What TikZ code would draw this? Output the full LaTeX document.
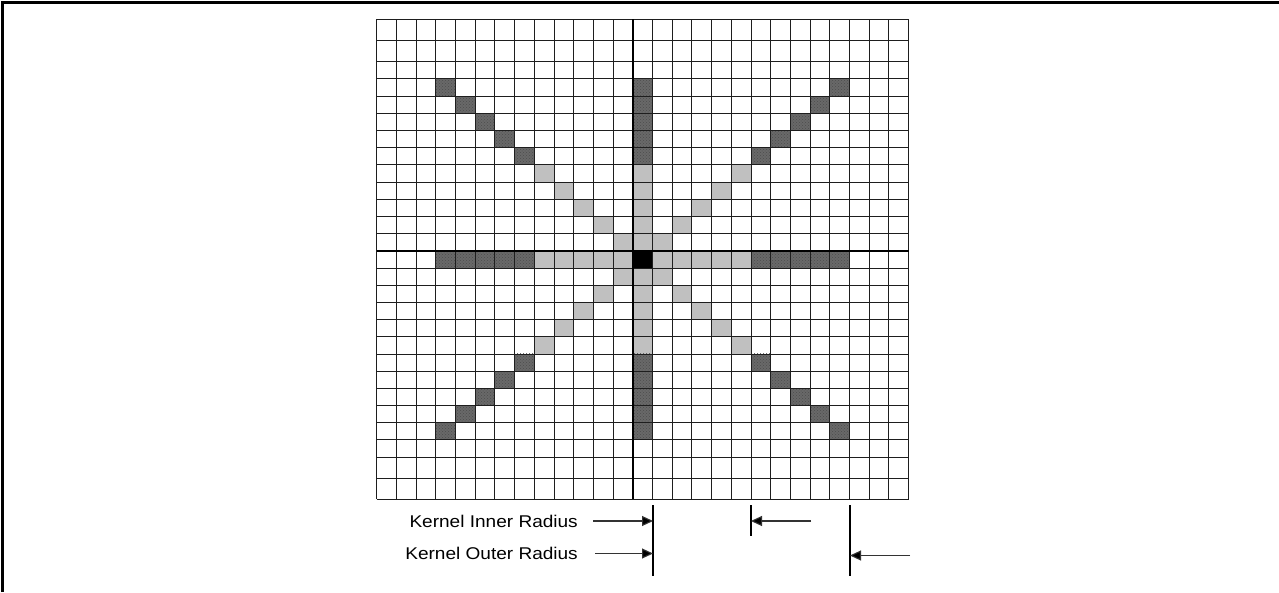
\documentclass[tikz,border=0pt]{standalone}
\usepackage{fontspec}
\setmainfont{Liberation Sans}
\usetikzlibrary{patterns,arrows.meta}
\pgfmathdeclarefunction{yb}{1}{%
  \pgfmathparse{592-((#1<=2)*(19.3+#1*21.2)+and(#1>2,#1<25)*(61.7+(#1-2)*17.19)+(#1>=25)*(457.1+(#1-25)*21.1))}%
}
\pgfmathdeclarefunction{xb}{1}{%
  \pgfmathparse{376.7+#1*19.7}%
}
\definecolor{darkcell}{RGB}{105,105,105}
\definecolor{lightcell}{RGB}{192,192,192}
\definecolor{gridline}{RGB}{30,30,30}
\tikzset{
  gridline/.style={draw=gridline,line width=0.85pt},
  axisline/.style={draw=black,line width=1.8pt},
  markline/.style={draw=black,line width=1.1pt},
  radarrow/.style={draw=black!80,line width=1.1pt,-{Triangle[length=11pt,width=10pt,fill=black]}},
  lbl/.style={anchor=east,inner sep=0pt,font=\fontsize{17}{20}\selectfont},
}
\newcommand{\cellfill}[3]{%
  \pgfmathsetmacro{\xa}{xb(#1)}\pgfmathsetmacro{\xc}{xb(#1+1)}%
  \pgfmathsetmacro{\ya}{yb(#2)}\pgfmathsetmacro{\yc}{yb(#2+1)}%
  \fill[#3] (\xa,\ya) rectangle (\xc,\yc);%
}
\begin{document}
\begin{tikzpicture}[x=1pt,y=1pt]
\useasboundingbox (0,0) rectangle (1279,592);
\fill[white] (0,0) rectangle (1279,592);
% frame (top and left only)
\draw[line width=3pt] (2.5,0) -- (2.5,589.5) -- (1279,589.5);
% cells
\foreach \d in {1,...,5}{
  \cellfill{13+\d}{13}{lightcell}
  \cellfill{13-\d}{13}{lightcell}
  \cellfill{13}{13+\d}{lightcell}
  \cellfill{13}{13-\d}{lightcell}
  \cellfill{13+\d}{13+\d}{lightcell}
  \cellfill{13-\d}{13-\d}{lightcell}
  \cellfill{13+\d}{13-\d}{lightcell}
  \cellfill{13-\d}{13+\d}{lightcell}
}
\foreach \d in {6,...,10}{
  \foreach \c/\r in {13+\d/13, 13-\d/13, 13/13+\d, 13/13-\d, 13+\d/13+\d, 13-\d/13-\d, 13+\d/13-\d, 13-\d/13+\d}{
    \cellfill{\c}{\r}{darkcell}
    \cellfill{\c}{\r}{pattern=crosshatch dots,pattern color=black!70}
  }
}
\cellfill{13}{13}{black}
% grid lines
\foreach \c in {0,...,27}{
  \pgfmathsetmacro{\xx}{xb(\c)}
  \draw[gridline] (\xx,{yb(0)}) -- (\xx,{yb(27)});
}
\foreach \r in {0,...,27}{
  \pgfmathsetmacro{\yy}{yb(\r)}
  \draw[gridline] ({xb(0)},\yy) -- ({xb(27)},\yy);
}
% axes
\draw[axisline] ({xb(13)},{yb(0)}) -- ({xb(13)},{yb(27)});
\draw[axisline] ({xb(0)},{yb(13)}) -- ({xb(27)},{yb(13)});
% radius markers
\coordinate (c0top) at (653,592-505);
\coordinate (c0bot) at (653,592-576);
\coordinate (citop) at (751,592-505);
\coordinate (cibot) at (751,592-536);
\coordinate (cotop) at (850,592-505);
\coordinate (cobot) at (850,592-576);
\draw[markline] (c0top) -- (c0bot);
\draw[markline] (citop) -- (cibot);
\draw[markline] (cotop) -- (cobot);
\node[lbl] (inner) at (578,592-521) {\scalebox{1.12}[1]{Kernel Inner Radius}};
\node[lbl] (outer) at (578,592-553) {\scalebox{1.12}[1]{Kernel Outer Radius}};
\coordinate (ia) at (593,592-521);
\coordinate (ib) at (653,592-521);
\coordinate (oa) at (595,592-553.5);
\coordinate (ob) at (653,592-553.5);
\coordinate (ic) at (811,592-521);
\coordinate (id) at (751,592-521);
\coordinate (oc) at (910,592-555.5);
\coordinate (od) at (850,592-555.5);
\draw[radarrow] (ia) -- (ib);
\draw[radarrow] (oa) -- (ob);
\draw[radarrow] (ic) -- (id);
\draw[radarrow] (oc) -- (od);
\end{tikzpicture}
\end{document}
